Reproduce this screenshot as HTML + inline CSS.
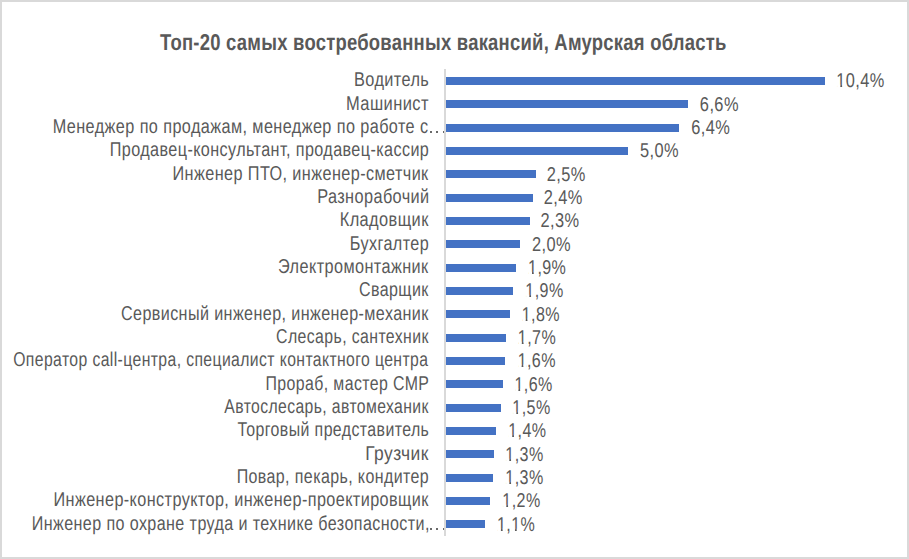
<!DOCTYPE html><html><head><meta charset="utf-8"><style>
html,body{margin:0;padding:0;}
body{width:909px;height:559px;overflow:hidden;background:#fff;position:relative;font-family:"Liberation Sans",sans-serif;}
.frame{position:absolute;left:0;top:0;width:905px;height:555px;border:2px solid #d9d9d9;background:#fff;}
.t{position:absolute;left:0;white-space:nowrap;color:#595959;transform-origin:0 0;font-size:20.0px;line-height:24px;text-rendering:geometricPrecision;}
.bar{position:absolute;background:#4472c4;}
.axis{position:absolute;background:#d9d9d9;}
.dot{position:absolute;width:1.6px;height:1.6px;background:#595959;opacity:.9;}
</style></head><body><div class="frame"></div>
<div class="t" style="top:27px;font-size:23px;letter-spacing:0.3px;line-height:30px;font-weight:bold;transform:translateX(160.1px) scaleX(0.8020)">Топ-20 самых востребованных вакансий, Амурская область</div>
<div class="axis" style="left:444.3px;top:69px;width:1.5px;height:467px"></div>
<div class="bar" style="left:446px;top:77.00px;width:379.00px;height:8px"></div>
<div class="t" style="top:68px;letter-spacing:0.5px;transform:translateX(354.00px) scaleX(0.8144)">Водитель</div>
<div class="t" style="top:69px;letter-spacing:0.5px;transform:translateX(836.33px) scaleX(0.8171);clip-path:path(evenodd,&quot;M-10 -10 H300 V50 H-10 Z M0.90 15.8 H4.90 V19.2 H0.90 Z M7.10 15.8 H11.00 V19.2 H7.10 Z&quot;)">10,4%</div>
<div class="bar" style="left:446px;top:100.33px;width:241.80px;height:8px"></div>
<div class="t" style="top:92px;letter-spacing:0.5px;transform:translateX(345.98px) scaleX(0.8242)">Машинист</div>
<div class="t" style="top:93px;letter-spacing:0.5px;transform:translateX(699.86px) scaleX(0.8206)">6,6%</div>
<div class="bar" style="left:446px;top:123.66px;width:232.90px;height:8px"></div>
<div class="t" style="top:115px;letter-spacing:0.5px;transform:translateX(52.70px) scaleX(0.8118)">Менеджер по продажам, менеджер по работе с</div>
<div class="dot" style="left:430.20px;top:131.30px"></div>
<div class="dot" style="left:436.40px;top:131.30px"></div>
<div class="dot" style="left:442.70px;top:131.30px"></div>
<div class="t" style="top:116px;letter-spacing:0.5px;transform:translateX(691.16px) scaleX(0.8206)">6,4%</div>
<div class="bar" style="left:446px;top:146.99px;width:182.00px;height:8px"></div>
<div class="t" style="top:138px;letter-spacing:0.5px;transform:translateX(109.83px) scaleX(0.8082)">Продавец-консультант, продавец-кассир</div>
<div class="t" style="top:139px;letter-spacing:0.5px;transform:translateX(639.91px) scaleX(0.8196)">5,0%</div>
<div class="bar" style="left:446px;top:170.32px;width:90.10px;height:8px"></div>
<div class="t" style="top:162px;letter-spacing:0.5px;transform:translateX(172.50px) scaleX(0.8118)">Инженер ПТО, инженер-сметчик</div>
<div class="t" style="top:163px;letter-spacing:0.5px;transform:translateX(546.79px) scaleX(0.8201)">2,5%</div>
<div class="bar" style="left:446px;top:193.65px;width:87.10px;height:8px"></div>
<div class="t" style="top:185px;letter-spacing:0.5px;transform:translateX(317.20px) scaleX(0.8143)">Разнорабочий</div>
<div class="t" style="top:186px;letter-spacing:0.5px;transform:translateX(543.79px) scaleX(0.8201)">2,4%</div>
<div class="bar" style="left:446px;top:216.98px;width:83.90px;height:8px"></div>
<div class="t" style="top:208px;letter-spacing:0.5px;transform:translateX(339.69px) scaleX(0.8187)">Кладовщик</div>
<div class="t" style="top:209px;letter-spacing:0.5px;transform:translateX(540.59px) scaleX(0.8201)">2,3%</div>
<div class="bar" style="left:446px;top:240.31px;width:73.70px;height:8px"></div>
<div class="t" style="top:232px;letter-spacing:0.5px;transform:translateX(349.81px) scaleX(0.8087)">Бухгалтер</div>
<div class="t" style="top:233px;letter-spacing:0.5px;transform:translateX(531.89px) scaleX(0.8201)">2,0%</div>
<div class="bar" style="left:446px;top:263.64px;width:69.90px;height:8px"></div>
<div class="t" style="top:255px;letter-spacing:0.5px;transform:translateX(278.05px) scaleX(0.8128)">Электромонтажник</div>
<div class="t" style="top:256px;letter-spacing:0.5px;transform:translateX(528.05px) scaleX(0.8038);clip-path:path(evenodd,&quot;M-10 -10 H300 V50 H-10 Z M0.90 15.8 H4.90 V19.2 H0.90 Z M7.10 15.8 H11.00 V19.2 H7.10 Z&quot;)">1,9%</div>
<div class="bar" style="left:446px;top:286.97px;width:66.90px;height:8px"></div>
<div class="t" style="top:278px;letter-spacing:0.5px;transform:translateX(358.97px) scaleX(0.8018)">Сварщик</div>
<div class="t" style="top:279px;letter-spacing:0.5px;transform:translateX(525.35px) scaleX(0.8038);clip-path:path(evenodd,&quot;M-10 -10 H300 V50 H-10 Z M0.90 15.8 H4.90 V19.2 H0.90 Z M7.10 15.8 H11.00 V19.2 H7.10 Z&quot;)">1,9%</div>
<div class="bar" style="left:446px;top:310.30px;width:63.60px;height:8px"></div>
<div class="t" style="top:302px;letter-spacing:0.5px;transform:translateX(120.96px) scaleX(0.8062)">Сервисный инженер, инженер-механик</div>
<div class="t" style="top:303px;letter-spacing:0.5px;transform:translateX(521.75px) scaleX(0.8038);clip-path:path(evenodd,&quot;M-10 -10 H300 V50 H-10 Z M0.90 15.8 H4.90 V19.2 H0.90 Z M7.10 15.8 H11.00 V19.2 H7.10 Z&quot;)">1,8%</div>
<div class="bar" style="left:446px;top:333.63px;width:60.10px;height:8px"></div>
<div class="t" style="top:325px;letter-spacing:0.5px;transform:translateX(276.08px) scaleX(0.7919)">Слесарь, сантехник</div>
<div class="t" style="top:326px;letter-spacing:0.5px;transform:translateX(517.85px) scaleX(0.8038);clip-path:path(evenodd,&quot;M-10 -10 H300 V50 H-10 Z M0.90 15.8 H4.90 V19.2 H0.90 Z M7.10 15.8 H11.00 V19.2 H7.10 Z&quot;)">1,7%</div>
<div class="bar" style="left:446px;top:356.96px;width:58.60px;height:8px"></div>
<div class="t" style="top:348px;letter-spacing:0.5px;transform:translateX(13.22px) scaleX(0.7874)">Оператор call-центра, специалист контактного центра</div>
<div class="t" style="top:349px;letter-spacing:0.5px;transform:translateX(517.65px) scaleX(0.8038);clip-path:path(evenodd,&quot;M-10 -10 H300 V50 H-10 Z M0.90 15.8 H4.90 V19.2 H0.90 Z M7.10 15.8 H11.00 V19.2 H7.10 Z&quot;)">1,6%</div>
<div class="bar" style="left:446px;top:380.29px;width:56.90px;height:8px"></div>
<div class="t" style="top:372px;letter-spacing:0.5px;transform:translateX(265.55px) scaleX(0.7937)">Прораб, мастер СМР</div>
<div class="t" style="top:373px;letter-spacing:0.5px;transform:translateX(514.45px) scaleX(0.8038);clip-path:path(evenodd,&quot;M-10 -10 H300 V50 H-10 Z M0.90 15.8 H4.90 V19.2 H0.90 Z M7.10 15.8 H11.00 V19.2 H7.10 Z&quot;)">1,6%</div>
<div class="bar" style="left:446px;top:403.62px;width:55.10px;height:8px"></div>
<div class="t" style="top:395px;letter-spacing:0.5px;transform:translateX(224.34px) scaleX(0.7868)">Автослесарь, автомеханик</div>
<div class="t" style="top:396px;letter-spacing:0.5px;transform:translateX(512.35px) scaleX(0.8038);clip-path:path(evenodd,&quot;M-10 -10 H300 V50 H-10 Z M0.90 15.8 H4.90 V19.2 H0.90 Z M7.10 15.8 H11.00 V19.2 H7.10 Z&quot;)">1,5%</div>
<div class="bar" style="left:446px;top:426.95px;width:49.70px;height:8px"></div>
<div class="t" style="top:418px;letter-spacing:0.5px;transform:translateX(237.40px) scaleX(0.7952)">Торговый представитель</div>
<div class="t" style="top:419px;letter-spacing:0.5px;transform:translateX(508.25px) scaleX(0.8038);clip-path:path(evenodd,&quot;M-10 -10 H300 V50 H-10 Z M0.90 15.8 H4.90 V19.2 H0.90 Z M7.10 15.8 H11.00 V19.2 H7.10 Z&quot;)">1,4%</div>
<div class="bar" style="left:446px;top:450.28px;width:47.75px;height:8px"></div>
<div class="t" style="top:442px;letter-spacing:0.5px;transform:translateX(365.20px) scaleX(0.8707)">Грузчик</div>
<div class="t" style="top:443px;letter-spacing:0.5px;transform:translateX(505.35px) scaleX(0.8038);clip-path:path(evenodd,&quot;M-10 -10 H300 V50 H-10 Z M0.90 15.8 H4.90 V19.2 H0.90 Z M7.10 15.8 H11.00 V19.2 H7.10 Z&quot;)">1,3%</div>
<div class="bar" style="left:446px;top:473.61px;width:46.90px;height:8px"></div>
<div class="t" style="top:465px;letter-spacing:0.5px;transform:translateX(236.64px) scaleX(0.7992)">Повар, пекарь, кондитер</div>
<div class="t" style="top:466px;letter-spacing:0.5px;transform:translateX(505.35px) scaleX(0.8038);clip-path:path(evenodd,&quot;M-10 -10 H300 V50 H-10 Z M0.90 15.8 H4.90 V19.2 H0.90 Z M7.10 15.8 H11.00 V19.2 H7.10 Z&quot;)">1,3%</div>
<div class="bar" style="left:446px;top:496.94px;width:43.60px;height:8px"></div>
<div class="t" style="top:488px;letter-spacing:0.5px;transform:translateX(53.51px) scaleX(0.8108)">Инженер-конструктор, инженер-проектировщик</div>
<div class="t" style="top:489px;letter-spacing:0.5px;transform:translateX(502.35px) scaleX(0.8038);clip-path:path(evenodd,&quot;M-10 -10 H300 V50 H-10 Z M0.90 15.8 H4.90 V19.2 H0.90 Z M7.10 15.8 H11.00 V19.2 H7.10 Z&quot;)">1,2%</div>
<div class="bar" style="left:446px;top:520.27px;width:38.60px;height:8px"></div>
<div class="t" style="top:512px;letter-spacing:0.5px;transform:translateX(31.72px) scaleX(0.8049)">Инженер по охране труда и технике безопасности,</div>
<div class="dot" style="left:430.20px;top:528.30px"></div>
<div class="dot" style="left:436.40px;top:528.30px"></div>
<div class="dot" style="left:442.70px;top:528.30px"></div>
<div class="t" style="top:513px;letter-spacing:0.5px;transform:translateX(496.95px) scaleX(0.8038);clip-path:path(evenodd,&quot;M-10 -10 H300 V50 H-10 Z M0.90 15.8 H4.90 V19.2 H0.90 Z M7.10 15.8 H11.00 V19.2 H7.10 Z M18.57 15.8 H22.40 V19.2 H18.57 Z M24.60 15.8 H28.67 V19.2 H24.60 Z&quot;)">1,1%</div>
</body></html>
